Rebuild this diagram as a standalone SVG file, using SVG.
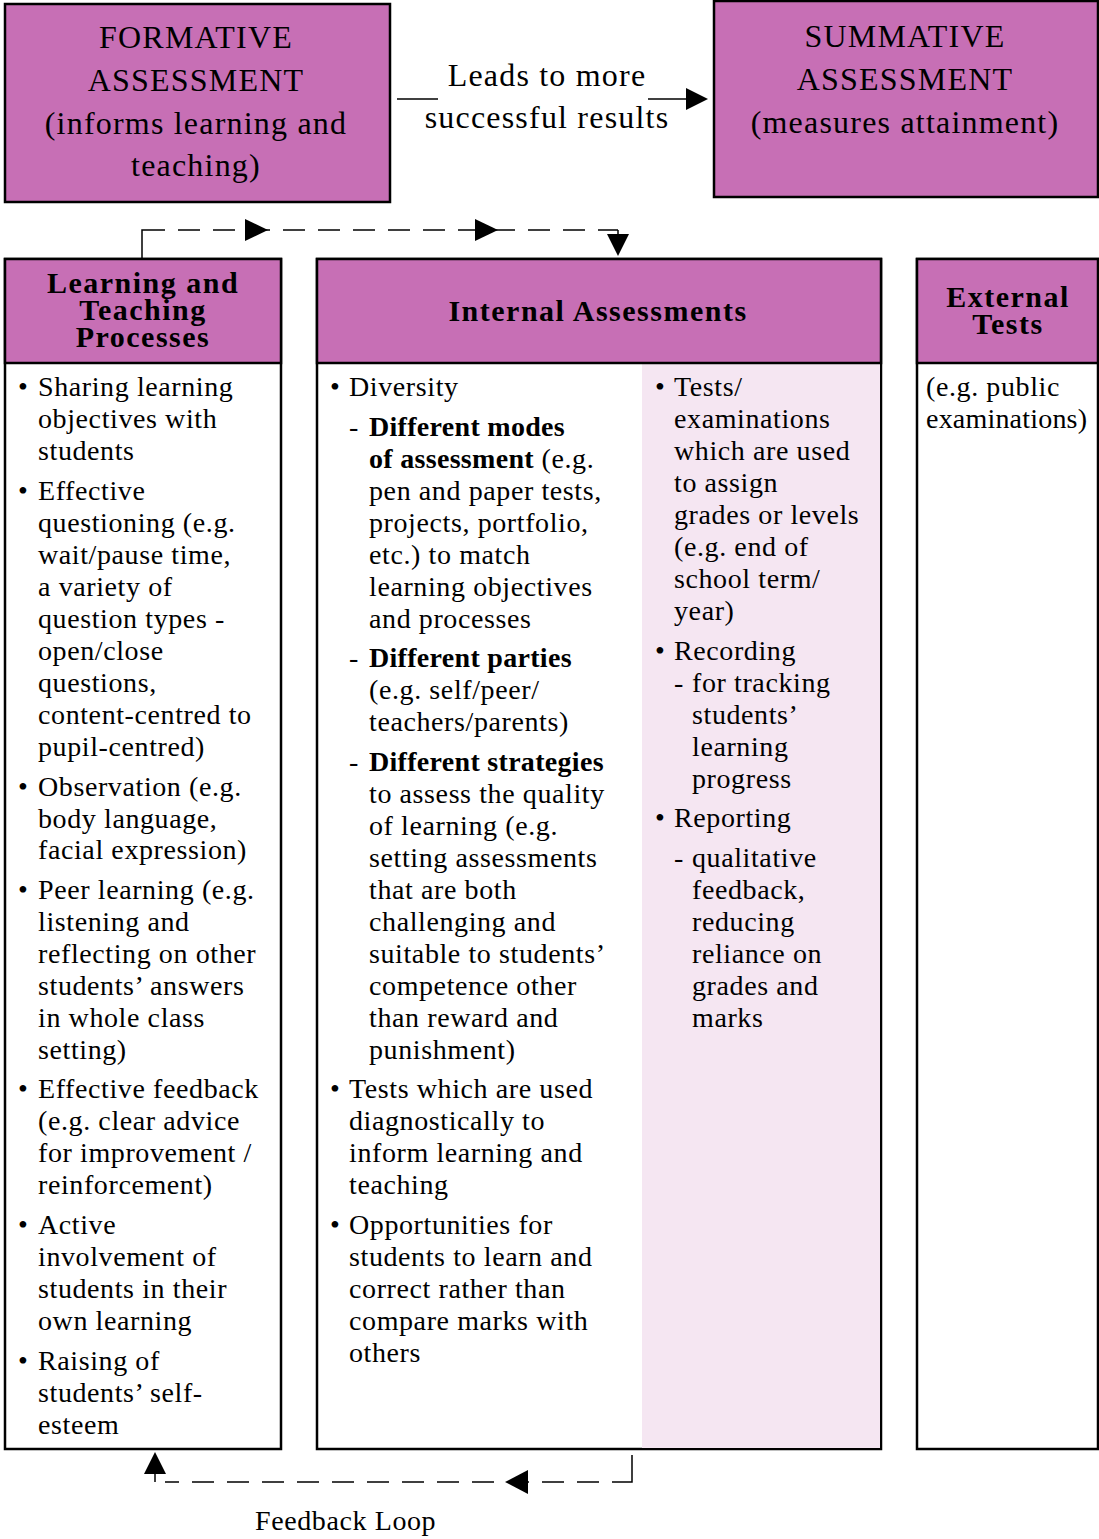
<svg xmlns="http://www.w3.org/2000/svg" width="1099" height="1539" viewBox="0 0 1099 1539">
<defs>
<style>
.box{fill:#C76FB5;stroke:#000;stroke-width:2.5}
.col{fill:#fff;stroke:#000;stroke-width:2.5}
.t{font-family:"Liberation Serif","Times New Roman",serif;font-size:28px;letter-spacing:0.6px;fill:#000}
.h{font-family:"Liberation Serif","Times New Roman",serif;font-size:30px;font-weight:bold;letter-spacing:1.5px;fill:#000;text-anchor:middle}
.big{font-family:"Liberation Serif","Times New Roman",serif;font-size:32px;letter-spacing:1.2px;fill:#000;text-anchor:middle}
.b{font-weight:bold;letter-spacing:0.3px}
.dash{fill:none;stroke:#000;stroke-width:1.5;stroke-dasharray:22 13}
.solid{fill:none;stroke:#000;stroke-width:1.5}
</style>
</defs>

<g id="formative">
<rect class="box" x="5" y="4" width="385" height="198"/>
<text class="big" x="196" y="48">FORMATIVE</text>
<text class="big" x="196" y="91">ASSESSMENT</text>
<text class="big" x="196" y="134">(informs learning and</text>
<text class="big" x="196" y="176">teaching)</text>
</g>

<g id="summative">
<rect class="box" x="714" y="1" width="384" height="196"/>
<text class="big" x="905" y="47">SUMMATIVE</text>
<text class="big" x="905" y="90">ASSESSMENT</text>
<text class="big" x="905" y="133">(measures attainment)</text>
</g>

<g id="connectors">
<line class="solid" x1="397" y1="99" x2="438" y2="99"/>
<line class="solid" x1="648" y1="99" x2="690" y2="99"/>
<path d="M686,88L708,99L686,110z"/>
<text class="big" x="547" y="86">Leads to more</text>
<text class="big" x="547" y="128">successful results</text>

<polyline class="solid" points="142,258 142,230 165,230"/>
<line class="dash" x1="178" y1="230" x2="618" y2="230"/>
<line class="solid" x1="618" y1="230" x2="618" y2="240"/>
<path d="M245,219L268,230L245,241z"/>
<path d="M475,219L498,230L475,241z"/>
<path d="M607,234L618,256L629,234z"/>

<polyline class="solid" points="632,1455 632,1482 612,1482"/>
<line class="dash" x1="599" y1="1482" x2="165" y2="1482"/>
<line class="solid" x1="155" y1="1482" x2="155" y2="1470"/>
<path d="M528,1470L505,1482L528,1494z"/>
<path d="M144,1474L155,1452L166,1474z"/>
<text class="t" x="255" y="1530">Feedback Loop</text>
</g>

<g id="learning-teaching">
<rect class="col" x="5" y="259" width="276" height="1190"/>
<rect class="box" x="5" y="259" width="276" height="104"/>
<text class="h" x="143" y="293">Learning and</text>
<text class="h" x="143" y="320">Teaching</text>
<text class="h" x="143" y="347">Processes</text>
<g class="t">
<text x="18" y="396">•</text><text x="38" y="396">Sharing learning</text>
<text x="38" y="428">objectives with</text>
<text x="38" y="460">students</text>
<text x="18" y="500">•</text><text x="38" y="500">Effective</text>
<text x="38" y="532">questioning (e.g.</text>
<text x="38" y="564">wait/pause time,</text>
<text x="38" y="596">a variety of</text>
<text x="38" y="628">question types -</text>
<text x="38" y="660">open/close</text>
<text x="38" y="692">questions,</text>
<text x="38" y="724">content-centred to</text>
<text x="38" y="756">pupil-centred)</text>
<text x="18" y="796">•</text><text x="38" y="796">Observation (e.g.</text>
<text x="38" y="828">body language,</text>
<text x="38" y="859">facial expression)</text>
<text x="18" y="899">•</text><text x="38" y="899">Peer learning (e.g.</text>
<text x="38" y="931">listening and</text>
<text x="38" y="963">reflecting on other</text>
<text x="38" y="995">students’ answers</text>
<text x="38" y="1027">in whole class</text>
<text x="38" y="1059">setting)</text>
<text x="18" y="1098">•</text><text x="38" y="1098">Effective feedback</text>
<text x="38" y="1130">(e.g. clear advice</text>
<text x="38" y="1162">for improvement /</text>
<text x="38" y="1194">reinforcement)</text>
<text x="18" y="1234">•</text><text x="38" y="1234">Active</text>
<text x="38" y="1266">involvement of</text>
<text x="38" y="1298">students in their</text>
<text x="38" y="1330">own learning</text>
<text x="18" y="1370">•</text><text x="38" y="1370">Raising of</text>
<text x="38" y="1402">students’ self-</text>
<text x="38" y="1434">esteem</text>
</g>
</g>

<g id="internal">
<rect class="col" x="317" y="259" width="564" height="1190"/>
<rect x="642" y="364" width="238" height="1084" fill="#F5E6F2"/>
<rect class="box" x="317" y="259" width="564" height="104"/>
<text class="h" x="598" y="321">Internal Assessments</text>
<g class="t">
<text x="330" y="396">•</text><text x="349" y="396">Diversity</text>
<text x="349" y="436">-</text><text x="369" y="436" class="b">Different modes</text>
<text x="369" y="468"><tspan class="b">of assessment</tspan> (e.g.</text>
<text x="369" y="500">pen and paper tests,</text>
<text x="369" y="532">projects, portfolio,</text>
<text x="369" y="564">etc.) to match</text>
<text x="369" y="596">learning objectives</text>
<text x="369" y="628">and processes</text>
<text x="349" y="667">-</text><text x="369" y="667" class="b">Different parties</text>
<text x="369" y="699">(e.g. self/peer/</text>
<text x="369" y="731">teachers/parents)</text>
<text x="349" y="771">-</text><text x="369" y="771" class="b">Different strategies</text>
<text x="369" y="803">to assess the quality</text>
<text x="369" y="835">of learning (e.g.</text>
<text x="369" y="867">setting assessments</text>
<text x="369" y="899">that are both</text>
<text x="369" y="931">challenging and</text>
<text x="369" y="963">suitable to students’</text>
<text x="369" y="995">competence other</text>
<text x="369" y="1027">than reward and</text>
<text x="369" y="1059">punishment)</text>
<text x="330" y="1098">•</text><text x="349" y="1098">Tests which are used</text>
<text x="349" y="1130">diagnostically to</text>
<text x="349" y="1162">inform learning and</text>
<text x="349" y="1194">teaching</text>
<text x="330" y="1234">•</text><text x="349" y="1234">Opportunities for</text>
<text x="349" y="1266">students to learn and</text>
<text x="349" y="1298">correct rather than</text>
<text x="349" y="1330">compare marks with</text>
<text x="349" y="1362">others</text>

<text x="655" y="396">•</text><text x="674" y="396">Tests/</text>
<text x="674" y="428">examinations</text>
<text x="674" y="460">which are used</text>
<text x="674" y="492">to assign</text>
<text x="674" y="524">grades or levels</text>
<text x="674" y="556">(e.g. end of</text>
<text x="674" y="588">school term/</text>
<text x="674" y="620">year)</text>
<text x="655" y="660">•</text><text x="674" y="660">Recording</text>
<text x="674" y="692">-</text><text x="692" y="692">for tracking</text>
<text x="692" y="724">students’</text>
<text x="692" y="756">learning</text>
<text x="692" y="788">progress</text>
<text x="655" y="827">•</text><text x="674" y="827">Reporting</text>
<text x="674" y="867">-</text><text x="692" y="867">qualitative</text>
<text x="692" y="899">feedback,</text>
<text x="692" y="931">reducing</text>
<text x="692" y="963">reliance on</text>
<text x="692" y="995">grades and</text>
<text x="692" y="1027">marks</text>
</g>
</g>

<g id="external">
<rect class="col" x="917" y="259" width="181" height="1190"/>
<rect class="box" x="917" y="259" width="181" height="104"/>
<text class="h" x="1008" y="307">External</text>
<text class="h" x="1008" y="334">Tests</text>
<g class="t">
<text x="926" y="396">(e.g. public</text>
<text x="926" y="428" letter-spacing="0.2">examinations)</text>
</g>
</g>
</svg>
